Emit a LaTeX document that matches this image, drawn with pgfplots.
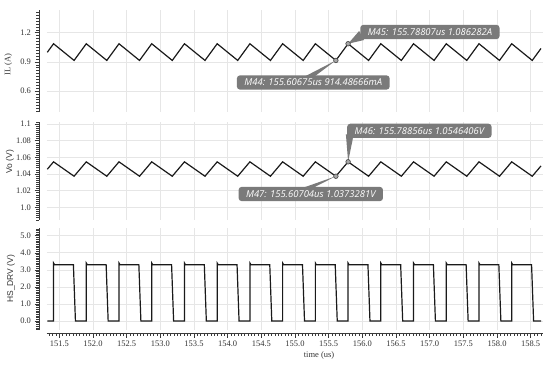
\documentclass[border=0pt]{standalone}
\usepackage{pgfplots}
\pgfplotsset{compat=1.18}
\usepackage{fontspec}
\setmainfont{Liberation Serif}
\newfontfamily\labelfont{Open Sans}
\newfontfamily\sanslab{Liberation Sans}
\definecolor{gridc}{HTML}{E6E6E6}
\definecolor{boxc}{HTML}{7A7A7A}
\definecolor{wave}{HTML}{1A1A1A}
\definecolor{axisc}{HTML}{3A3A3A}
\definecolor{ticklabc}{HTML}{333333}
\tikzset{
  tagbox/.style={fill=boxc, rounded corners=3bp, text=white, inner xsep=7.5bp, inner ysep=3.6bp,
     font=\labelfont\itshape\fontsize{9.5}{10}\selectfont, anchor=center},
}
\pgfplotsset{
  panel/.style={
    scale only axis, width=496.3bp,
    xmin=151.3123, xmax=158.6828,
    axis y line*=left, axis x line*=bottom,
    axis y line shift=7.7bp,
    axis line style={draw=axisc, line width=0.8bp, -},
    xtick={151.5,152,152.5,153,153.5,154,154.5,155,155.5,156,156.5,157,157.5,158,158.5},
    grid=major, grid style={gridc, line width=0.6bp},
    tick style={axisc, line width=0.5bp},
    tick align=outside, major tick length=4.5bp, minor tick length=2.8bp,
    tick label style={font=\fontsize{8.5}{10}\selectfont, text=ticklabc},
    label style={font=\fontsize{8.5}{10}\selectfont, text=ticklabc},
    clip=false,
  },
  hidex/.style={
    x axis line style={draw=none}, xticklabels={},
    major x tick style={draw=none}, minor x tick style={draw=none},
  },
  wavestyle/.style={wave, line width=1.2bp, line join=miter},
  mk/.style={only marks, mark=*, mark size=2.3bp, mark options={fill=gray!70, draw=black!75, line width=0.6bp}},
}
\begin{document}
\begin{tikzpicture}
% ---------- Panel 1: IL ----------
\begin{axis}[panel, hidex, at={(46.7bp,257bp)}, anchor=south west, height=102bp,
  ymin=0.3839, ymax=1.4336,
  ytick={0.6,0.9,1.2}, yticklabels={0.6,0.9,1.2},
  minor ytick={0.39,0.42,0.45,0.48,0.51,0.54,0.57,0.63,0.66,0.69,0.72,0.75,0.78,0.81,0.84,0.87,0.93,0.96,0.99,1.02,1.05,1.08,1.11,1.14,1.17,1.23,1.26,1.29,1.32,1.35,1.38,1.41},
  ylabel={IL (A)}, ylabel style={at={(axis description cs:-0.0774,0.466)}, anchor=center, rotate=0},
]
\addplot[wavestyle] coordinates {
(151.321,0.998) (151.414,1.0863) (151.719,0.9145) (151.900,1.0863) (152.205,0.9145)
(152.386,1.0863) (152.691,0.9145) (152.872,1.0863) (153.177,0.9145) (153.358,1.0863)
(153.663,0.9145) (153.844,1.0863) (154.149,0.9145) (154.330,1.0863) (154.635,0.9145)
(154.816,1.0863) (155.121,0.9145) (155.302,1.0863) (155.607,0.9145) (155.788,1.0863)
(156.093,0.9145) (156.274,1.0863) (156.579,0.9145) (156.760,1.0863) (157.065,0.9145)
(157.246,1.0863) (157.551,0.9145) (157.732,1.0863) (158.037,0.9145) (158.218,1.0863)
(158.523,0.9145) (158.653,1.038)};
\fill[boxc] (axis cs:155.9523,1.2175) -- (axis cs:156.0268,1.1249) -- (axis cs:155.78807,1.086282) -- cycle;
\fill[boxc] (axis cs:155.1296,0.7441) -- (axis cs:155.2787,0.7441) -- (axis cs:155.60675,0.91448666) -- cycle;
\node[tagbox] at (axis cs:157.0035,1.2072) {M45: 155.78807us 1.086282A};
\node[tagbox] at (axis cs:155.2712,0.6875) {M44: 155.60675us 914.48666mA};
\addplot[mk] coordinates {(155.60675,0.91448666) (155.78807,1.086282)};
\end{axis}
% ---------- Panel 2: Vo ----------
\begin{axis}[panel, hidex, at={(46.7bp,149bp)}, anchor=south west, height=98.3bp,
  ymin=0.98475, ymax=1.1028,
  ytick={1.0,1.02,1.04,1.06,1.08,1.1}, yticklabels={1.0,1.02,1.04,1.06,1.08,1.1},
  minor ytick={0.985,0.9875,...,1.1025},
  ylabel={\sanslab Vo (V)}, ylabel style={at={(axis description cs:-0.0739,0.593)}, anchor=center, rotate=0},
]
\addplot[wavestyle] coordinates {
(151.321,1.0457) (151.414,1.0546) (151.719,1.0373) (151.900,1.0546) (152.205,1.0373)
(152.386,1.0546) (152.691,1.0373) (152.872,1.0546) (153.177,1.0373) (153.358,1.0546)
(153.663,1.0373) (153.844,1.0546) (154.149,1.0373) (154.330,1.0546) (154.635,1.0373)
(154.816,1.0546) (155.121,1.0373) (155.302,1.0546) (155.607,1.0373) (155.788,1.0546)
(156.093,1.0373) (156.274,1.0546) (156.579,1.0373) (156.760,1.0546) (157.065,1.0373)
(157.246,1.0546) (157.551,1.0373) (157.732,1.0546) (158.037,1.0373) (158.218,1.0546)
(158.523,1.0373) (158.653,1.0497)};
\fill[boxc] (axis cs:155.7553,1.0880) -- (axis cs:155.8596,1.0828) -- (axis cs:155.78856,1.0546406) -- cycle;
\fill[boxc] (axis cs:155.1298,1.02377) -- (axis cs:155.2787,1.02377) -- (axis cs:155.60704,1.0373281) -- cycle;
\node[tagbox] at (axis cs:156.8471,1.09184) {M46: 155.78856us 1.0546406V};
\node[tagbox] at (axis cs:155.234,1.01597) {M47: 155.60704us 1.0373281V};
\addplot[mk] coordinates {(155.60704,1.0373281) (155.78856,1.0546406)};
\end{axis}
% ---------- Panel 3: HS_DRV ----------
\begin{axis}[panel, at={(46.7bp,39bp)}, anchor=south west, height=102bp,
  ymin=-0.527, ymax=5.451,
  axis x line shift=3bp,
  ytick={0,1,2,3,4,5}, yticklabels={0.0,1.0,2.0,3.0,4.0,5.0},
  minor ytick={-0.5,-0.4,...,5.45},
  minor xtick={151.25,151.3,...,158.7},
  xticklabels={151.5,152.0,152.5,153.0,153.5,154.0,154.5,155.0,155.5,156.0,156.5,157.0,157.5,158.0,158.5},
  ylabel={\sanslab HS\_DRV (V)}, ylabel style={at={(axis description cs:-0.0719,0.502)}, anchor=center, rotate=0},
  xlabel={time (us)}, xlabel style={at={(axis description cs:0.5487,-0.245)}, anchor=center},
]
\addplot[wavestyle] coordinates {
(151.321,0) (151.414,0) (151.414,3.4) (151.429,3.3) (151.709,3.3) (151.739,0)
(151.900,0) (151.900,3.4) (151.915,3.3) (152.195,3.3) (152.225,0)
(152.386,0) (152.386,3.4) (152.401,3.3) (152.681,3.3) (152.711,0)
(152.872,0) (152.872,3.4) (152.887,3.3) (153.167,3.3) (153.197,0)
(153.358,0) (153.358,3.4) (153.373,3.3) (153.653,3.3) (153.683,0)
(153.844,0) (153.844,3.4) (153.859,3.3) (154.139,3.3) (154.169,0)
(154.330,0) (154.330,3.4) (154.345,3.3) (154.625,3.3) (154.655,0)
(154.816,0) (154.816,3.4) (154.831,3.3) (155.111,3.3) (155.141,0)
(155.302,0) (155.302,3.4) (155.317,3.3) (155.597,3.3) (155.627,0)
(155.788,0) (155.788,3.4) (155.803,3.3) (156.083,3.3) (156.113,0)
(156.274,0) (156.274,3.4) (156.289,3.3) (156.569,3.3) (156.599,0)
(156.760,0) (156.760,3.4) (156.775,3.3) (157.055,3.3) (157.085,0)
(157.246,0) (157.246,3.4) (157.261,3.3) (157.541,3.3) (157.571,0)
(157.732,0) (157.732,3.4) (157.747,3.3) (158.027,3.3) (158.057,0)
(158.218,0) (158.218,3.4) (158.233,3.3) (158.513,3.3) (158.543,0)
(158.653,0)};
\end{axis}
\pgfresetboundingbox
\useasboundingbox (0,0) rectangle (550bp,369bp);
\end{tikzpicture}
\end{document}
